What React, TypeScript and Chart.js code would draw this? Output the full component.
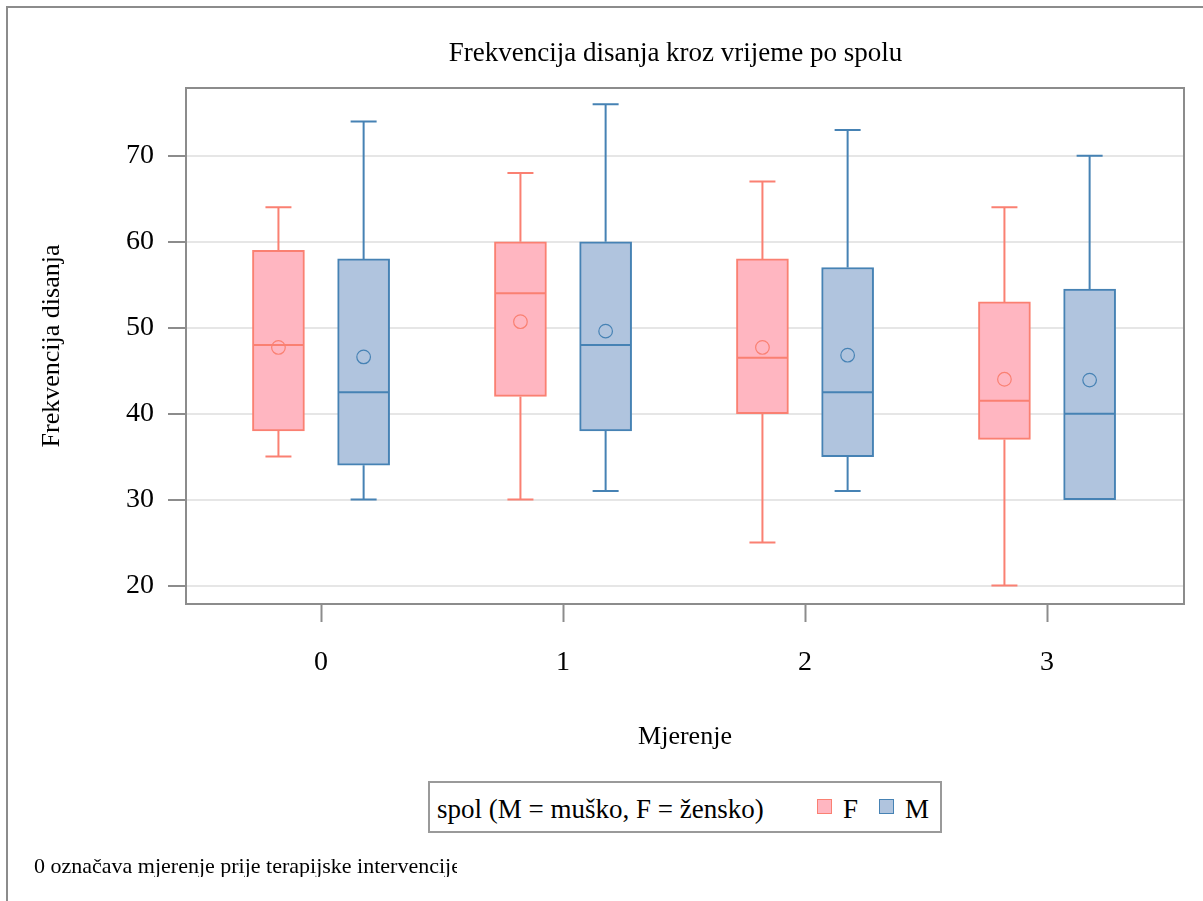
import React, { useEffect, useRef } from 'react';
import { Chart, registerables } from 'chart.js';

Chart.register(...registerables);

// ---- data ----
const categories = [0, 1, 2, 3];
const tickLabels = ['0', '1', '2', '3'];
const yTickValues = [20, 30, 40, 50, 60, 70];
const seriesNames = ['F', 'M'];

const fMin = [35, 30, 25, 20];
const fQ1 = [38, 42, 40, 37];
const fMedian = [48, 54, 46.5, 41.5];
const fQ3 = [59, 60, 58, 53];
const fMax = [64, 68, 67, 64];
const fMean = [47.7, 50.7, 47.7, 44.0];

const mMin = [30, 31, 31, 30];
const mQ1 = [34, 38, 35, 30];
const mMedian = [42.5, 48, 42.5, 40];
const mQ3 = [58, 60, 57, 54.5];
const mMax = [74, 76, 73, 70];
const mMean = [46.6, 49.6, 46.8, 43.9];

const titleText = 'Frekvencija disanja kroz vrijeme po spolu';
const xTitle = 'Mjerenje';
const yTitle = 'Frekvencija disanja';
const legendTitle = 'spol (M = muško, F = žensko)';
const footnote = '0 označava mjerenje prije terapijske intervencije';

// ---- style ----
const FONT = "'Liberation Serif', 'Times New Roman', serif";
const F_FILL = '#FFB6C1';
const F_LINE = '#FA8072';
const M_FILL = '#B0C4DE';
const M_LINE = '#4682B4';
const FRAME = '#8c8c8c';
const GRID = '#e6e6e6';
const GROUP_OFFSET = 0.176;

const groups = [
  { name: seriesNames[0], min: fMin, q1: fQ1, med: fMedian, q3: fQ3, max: fMax, mean: fMean, fill: F_FILL, line: F_LINE, off: -GROUP_OFFSET },
  { name: seriesNames[1], min: mMin, q1: mQ1, med: mMedian, q3: mQ3, max: mMax, mean: mMean, fill: M_FILL, line: M_LINE, off: GROUP_OFFSET },
];

const boxPlugin = {
  id: 'boxExtras',
  afterDatasetsDraw(chart: any) {
    const ctx = chart.ctx;
    const y = chart.scales.y;
    ctx.save();
    ctx.lineWidth = 2;
    groups.forEach((g, d) => {
      const meta = chart.getDatasetMeta(d);
      ctx.strokeStyle = g.line;
      meta.data.forEach((el: any, i: number) => {
        const { x, width } = el.getProps(['x', 'width'], true);
        const half = width / 2;
        const cap = width / 4;
        const yQ1 = y.getPixelForValue(g.q1[i]);
        const yQ3 = y.getPixelForValue(g.q3[i]);
        const yMax = y.getPixelForValue(g.max[i]);
        const yMin = y.getPixelForValue(g.min[i]);
        const yMed = y.getPixelForValue(g.med[i]);
        ctx.beginPath();
        ctx.moveTo(x, yQ3);
        ctx.lineTo(x, yMax);
        ctx.moveTo(x - cap, yMax);
        ctx.lineTo(x + cap, yMax);
        if (g.min[i] < g.q1[i]) {
          ctx.moveTo(x, yQ1);
          ctx.lineTo(x, yMin);
          ctx.moveTo(x - cap, yMin);
          ctx.lineTo(x + cap, yMin);
        }
        ctx.moveTo(x - half + 1, yMed);
        ctx.lineTo(x + half - 1, yMed);
        ctx.stroke();
      });
    });
    ctx.restore();
  },
  afterDraw(chart: any) {
    const { left, top, right, bottom } = chart.chartArea;
    const ctx = chart.ctx;
    ctx.save();
    ctx.strokeStyle = FRAME;
    ctx.lineWidth = 2;
    ctx.strokeRect(left, top, right - left, bottom - top);
    ctx.restore();
  },
};

export default function App() {
  const ref = useRef<HTMLCanvasElement | null>(null);

  useEffect(() => {
    if (!ref.current) return;
    const datasets: any[] = [];
    groups.forEach((g) => {
      datasets.push({
        type: 'bar',
        label: g.name,
        data: categories.map((c, i) => ({ x: c + g.off, y: [g.q1[i], g.q3[i]] })),
        backgroundColor: g.fill,
        borderColor: g.line,
        borderWidth: 2,
        borderSkipped: false,
        grouped: false,
        barPercentage: 1,
        categoryPercentage: 1,
        maxBarThickness: 52,
        order: 2,
      });
    });
    groups.forEach((g) => {
      datasets.push({
        type: 'scatter',
        label: g.name + ' mean',
        data: categories.map((c, i) => ({ x: c + g.off, y: g.mean[i] })),
        borderColor: g.line,
        backgroundColor: 'rgba(0,0,0,0)',
        pointStyle: 'circle',
        pointRadius: 6.8,
        borderWidth: 1.2,
        showLine: false,
        order: 0,
      });
    });

    const chart = new Chart(ref.current, {
      type: 'bar',
      data: { datasets },
      plugins: [boxPlugin],
      options: {
        animation: false,
        responsive: false,
        maintainAspectRatio: false,
        events: [],
        layout: { padding: { top: 88, right: 19, left: 0, bottom: 0 } },
        plugins: {
          legend: { display: false },
          tooltip: { enabled: false },
          title: { display: false },
        },
        scales: {
          x: {
            type: 'linear',
            min: -0.558,
            max: 3.566,
            offset: false,
            afterFit: (s: any) => { s.height = 297; },
            afterBuildTicks: (s: any) => { s.ticks = categories.map((v) => ({ value: v })); },
            grid: {
              offset: false,
              drawOnChartArea: false,
              drawTicks: true,
              tickLength: 18,
              tickColor: FRAME,
              tickWidth: 2,
              color: FRAME,
            },
            border: { display: false },
            ticks: {
              autoSkip: false,
              maxRotation: 0,
              padding: 23.7,
              color: '#000',
              font: { family: FONT, size: 28 },
              callback: (v: any) => {
                const k = categories.indexOf(Number(v));
                return k >= 0 ? tickLabels[k] : '';
              },
            },
            title: {
              display: true,
              text: xTitle,
              color: '#000',
              font: { family: FONT, size: 26 },
              padding: { top: 0, bottom: 148 },
            },
          },
          y: {
            type: 'linear',
            min: 17.85,
            max: 77.89,
            afterFit: (s: any) => { s.width = 186; },
            afterBuildTicks: (s: any) => { s.ticks = yTickValues.map((v) => ({ value: v })); },
            grid: {
              color: GRID,
              lineWidth: 2,
              drawTicks: true,
              tickLength: 18,
              tickColor: FRAME,
              tickWidth: 2,
            },
            border: { display: false },
            ticks: {
              autoSkip: false,
              padding: 14,
              color: '#000',
              font: { family: FONT, size: 28 },
              callback: (v: any) => String(v),
            },
            title: {
              display: true,
              text: yTitle,
              color: '#000',
              font: { family: FONT, size: 26 },
              padding: { top: 37, bottom: 0 },
            },
          },
        },
      } as any,
    });
    return () => chart.destroy();
  }, []);

  const abs = (o: any) => ({ position: 'absolute' as const, ...o });

  return (
    <div style={{ position: 'fixed', left: 0, top: 0, width: 1203, height: 901, overflow: 'hidden', background: '#fff', fontFamily: FONT, color: '#000' }}>
      <div style={abs({ left: 6, top: 6, width: 1400, height: 1000, border: `2px solid ${FRAME}`, boxSizing: 'border-box' })} />
      <canvas ref={ref} width={1203} height={901} style={abs({ left: 0, top: 0, width: 1203, height: 901 })} />
      <div style={abs({ left: 0, top: 39.1, width: 1351, textAlign: 'center', fontSize: 27, lineHeight: '27px', whiteSpace: 'nowrap' })}>{titleText}</div>
      <div style={abs({ left: 428, top: 781, width: 514, height: 52, border: '2px solid #9a9a9a', boxSizing: 'border-box', background: '#fff' })} />
      <div style={abs({ left: 437, top: 796.4, fontSize: 27, lineHeight: '27px', whiteSpace: 'nowrap' })}>{legendTitle}</div>
      <div style={abs({ left: 817, top: 799, width: 15, height: 15, background: F_FILL, border: `1px solid ${F_LINE}`, boxSizing: 'border-box' })} />
      <div style={abs({ left: 843, top: 796.4, fontSize: 27, lineHeight: '27px' })}>{seriesNames[0]}</div>
      <div style={abs({ left: 879, top: 799, width: 15, height: 15, background: M_FILL, border: `1px solid ${M_LINE}`, boxSizing: 'border-box' })} />
      <div style={abs({ left: 905, top: 796.4, fontSize: 27, lineHeight: '27px' })}>{seriesNames[1]}</div>
      <div style={abs({ left: 34, top: 854.6, width: 423, overflow: 'hidden', fontSize: 22, lineHeight: '22px', whiteSpace: 'nowrap' })}>{footnote}</div>
    </div>
  );
}
